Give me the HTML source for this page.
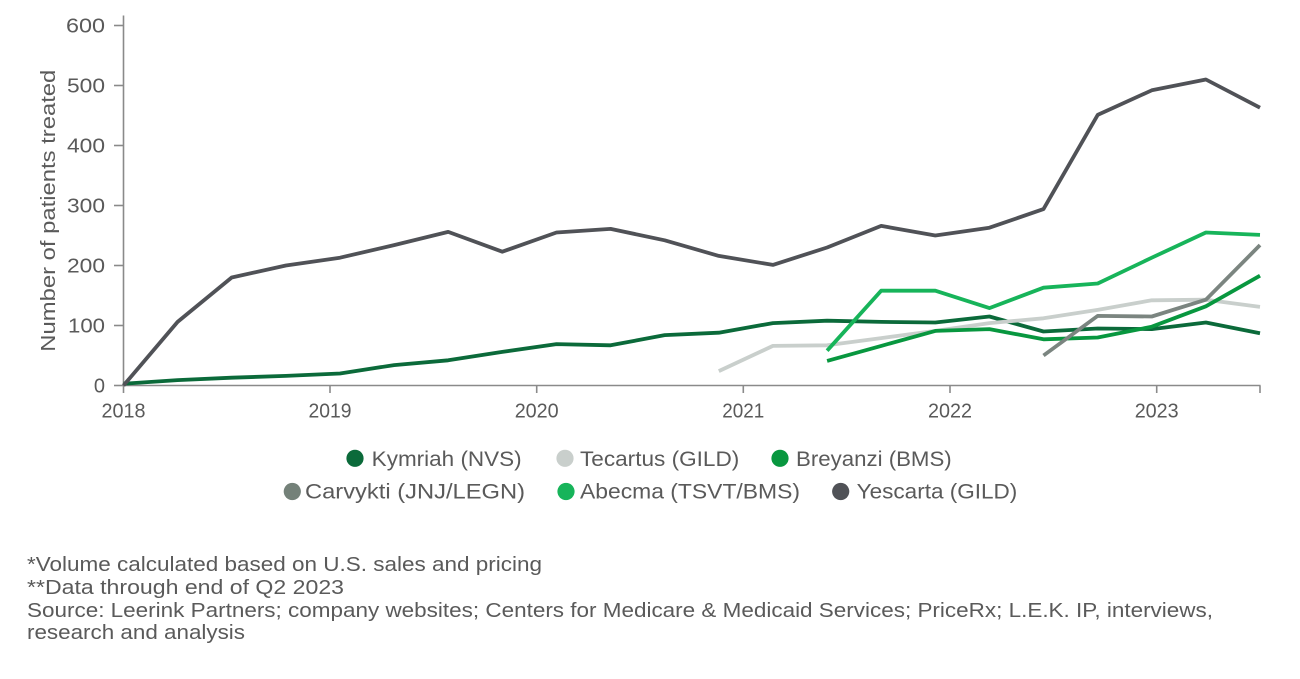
<!DOCTYPE html>
<html>
<head>
<meta charset="utf-8">
<style>
  html, body { margin: 0; padding: 0; background: #ffffff; }
  svg { display: block; }
  text { font-family: "Liberation Sans", "DejaVu Sans", sans-serif; fill: #5a5a5a; }
</style>
</head>
<body>
<svg width="1300" height="679" viewBox="0 0 1300 679" xmlns="http://www.w3.org/2000/svg">
  <rect x="0" y="0" width="1300" height="679" fill="#ffffff"/>

  <!-- Axes -->
  <g stroke="#8a8a8a" stroke-width="1.6" fill="none">
    <line x1="123.5" y1="15.5" x2="123.5" y2="393"/>
    <line x1="123" y1="385.5" x2="1260.5" y2="385.5"/>
    <!-- y ticks -->
    <line x1="114" y1="25.5" x2="123.5" y2="25.5"/>
    <line x1="114" y1="85.5" x2="123.5" y2="85.5"/>
    <line x1="114" y1="145.5" x2="123.5" y2="145.5"/>
    <line x1="114" y1="205.5" x2="123.5" y2="205.5"/>
    <line x1="114" y1="265.5" x2="123.5" y2="265.5"/>
    <line x1="114" y1="325.5" x2="123.5" y2="325.5"/>
    <line x1="114" y1="385.5" x2="123.5" y2="385.5"/>
    <!-- x ticks -->
    <line x1="330" y1="385.5" x2="330" y2="393"/>
    <line x1="536.7" y1="385.5" x2="536.7" y2="393"/>
    <line x1="743.3" y1="385.5" x2="743.3" y2="393"/>
    <line x1="950" y1="385.5" x2="950" y2="393"/>
    <line x1="1156.7" y1="385.5" x2="1156.7" y2="393"/>
    <line x1="1260" y1="385.5" x2="1260" y2="393"/>
  </g>

  <!-- Y tick labels -->
  <g font-size="20" text-anchor="end">
    <text x="105" y="32.5" textLength="39" lengthAdjust="spacingAndGlyphs">600</text>
    <text x="105" y="92.5" textLength="38" lengthAdjust="spacingAndGlyphs">500</text>
    <text x="105" y="152.5" textLength="38" lengthAdjust="spacingAndGlyphs">400</text>
    <text x="105" y="212.5" textLength="38" lengthAdjust="spacingAndGlyphs">300</text>
    <text x="105" y="272.5" textLength="38" lengthAdjust="spacingAndGlyphs">200</text>
    <text x="105" y="332.5" textLength="37" lengthAdjust="spacingAndGlyphs">100</text>
    <text x="105" y="392.5">0</text>
  </g>

  <!-- X tick labels -->
  <g font-size="20.5" text-anchor="middle">
    <text x="123.5" y="417.5" textLength="44" lengthAdjust="spacingAndGlyphs">2018</text>
    <text x="330" y="417.5" textLength="43" lengthAdjust="spacingAndGlyphs">2019</text>
    <text x="536.7" y="417.5" textLength="44" lengthAdjust="spacingAndGlyphs">2020</text>
    <text x="743.3" y="417.5" textLength="42" lengthAdjust="spacingAndGlyphs">2021</text>
    <text x="950" y="417.5" textLength="44" lengthAdjust="spacingAndGlyphs">2022</text>
    <text x="1156.7" y="417.5" textLength="44" lengthAdjust="spacingAndGlyphs">2023</text>
  </g>

  <!-- Y axis title -->
  <text font-size="20" transform="translate(55,351.7) rotate(-90)" textLength="282" lengthAdjust="spacingAndGlyphs">Number of patients treated</text>

  <!-- Series -->
  <g fill="none" stroke-width="3.8" stroke-linejoin="round" stroke-linecap="butt">
    <!-- Kymriah -->
    <polyline stroke="#0b6a3a" points="123.5,383.7 177.6,380.1 231.7,377.7 285.9,375.9 340,373.5 394.1,365.1 448.2,360.3 502.3,351.9 556.5,344.1 610.6,345.3 664.7,335.1 718.8,332.7 772.9,323.1 827.1,320.7 881.2,321.9 935.3,322.5 989.4,316.5 1043.5,331.5 1097.7,328.5 1151.8,329.1 1205.9,322.5 1260,333.3"/>
    <!-- Tecartus -->
    <polyline stroke="#c9cfcc" points="718.8,371.1 772.9,345.9 827.1,345.3 881.2,338.1 935.3,330.9 989.4,323.1 1043.5,318.3 1097.7,309.9 1151.8,300.3 1205.9,299.7 1260,306.9"/>
    <!-- Breyanzi -->
    <polyline stroke="#08973f" points="827.1,360.9 881.2,345.9 935.3,330.9 989.4,329.1 1043.5,339.3 1097.7,337.5 1151.8,326.7 1205.9,306.3 1260,275.7"/>
    <!-- Carvykti -->
    <polyline stroke="#7b8580" points="1043.5,355.5 1097.7,315.9 1151.8,316.5 1205.9,299.7 1260,245.1"/>
    <!-- Abecma -->
    <polyline stroke="#17b45a" points="827.1,350.7 881.2,290.7 935.3,290.7 989.4,308.1 1043.5,287.7 1097.7,283.5 1151.8,257.7 1205.9,232.5 1260,234.9"/>
    <!-- Yescarta -->
    <polyline stroke="#505257" points="123.5,385.5 177.6,321.9 231.7,277.5 285.9,265.5 340,257.7 394.1,245.1 448.2,231.9 502.3,251.7 556.5,232.5 610.6,228.9 664.7,240.3 718.8,255.9 772.9,264.9 827.1,247.5 881.2,225.9 935.3,235.5 989.4,227.7 1043.5,209.1 1097.7,114.9 1151.8,90.3 1205.9,79.5 1260,107.7"/>
  </g>

  <!-- Legend -->
  <g font-size="21.5">
    <circle cx="355" cy="458.3" r="8.6" fill="#0b6a3a"/>
    <text x="371.7" y="466" textLength="150" lengthAdjust="spacingAndGlyphs">Kymriah (NVS)</text>
    <circle cx="565" cy="458.3" r="8.6" fill="#c9cfcc"/>
    <text x="580" y="466" textLength="159.3" lengthAdjust="spacingAndGlyphs">Tecartus (GILD)</text>
    <circle cx="780" cy="458.3" r="8.6" fill="#08973f"/>
    <text x="796" y="466" textLength="155.7" lengthAdjust="spacingAndGlyphs">Breyanzi (BMS)</text>

    <circle cx="292.3" cy="491.5" r="8.6" fill="#748179"/>
    <text x="305" y="498.7" textLength="220" lengthAdjust="spacingAndGlyphs">Carvykti (JNJ/LEGN)</text>
    <circle cx="566" cy="491.5" r="8.6" fill="#17b45a"/>
    <text x="580" y="498.7" textLength="220" lengthAdjust="spacingAndGlyphs">Abecma (TSVT/BMS)</text>
    <circle cx="840.7" cy="491.5" r="8.6" fill="#505257"/>
    <text x="856.7" y="498.7" textLength="160.6" lengthAdjust="spacingAndGlyphs">Yescarta (GILD)</text>
  </g>

  <!-- Footnotes -->
  <g font-size="20">
    <text x="27" y="571" textLength="515" lengthAdjust="spacingAndGlyphs">*Volume calculated based on U.S. sales and pricing</text>
    <text x="27" y="594" textLength="317" lengthAdjust="spacingAndGlyphs">**Data through end of Q2 2023</text>
    <text x="27" y="617" textLength="1186" lengthAdjust="spacingAndGlyphs">Source: Leerink Partners; company websites; Centers for Medicare &amp; Medicaid Services; PriceRx; L.E.K. IP, interviews,</text>
    <text x="27" y="639" textLength="218" lengthAdjust="spacingAndGlyphs">research and analysis</text>
  </g>
</svg>
</body>
</html>
